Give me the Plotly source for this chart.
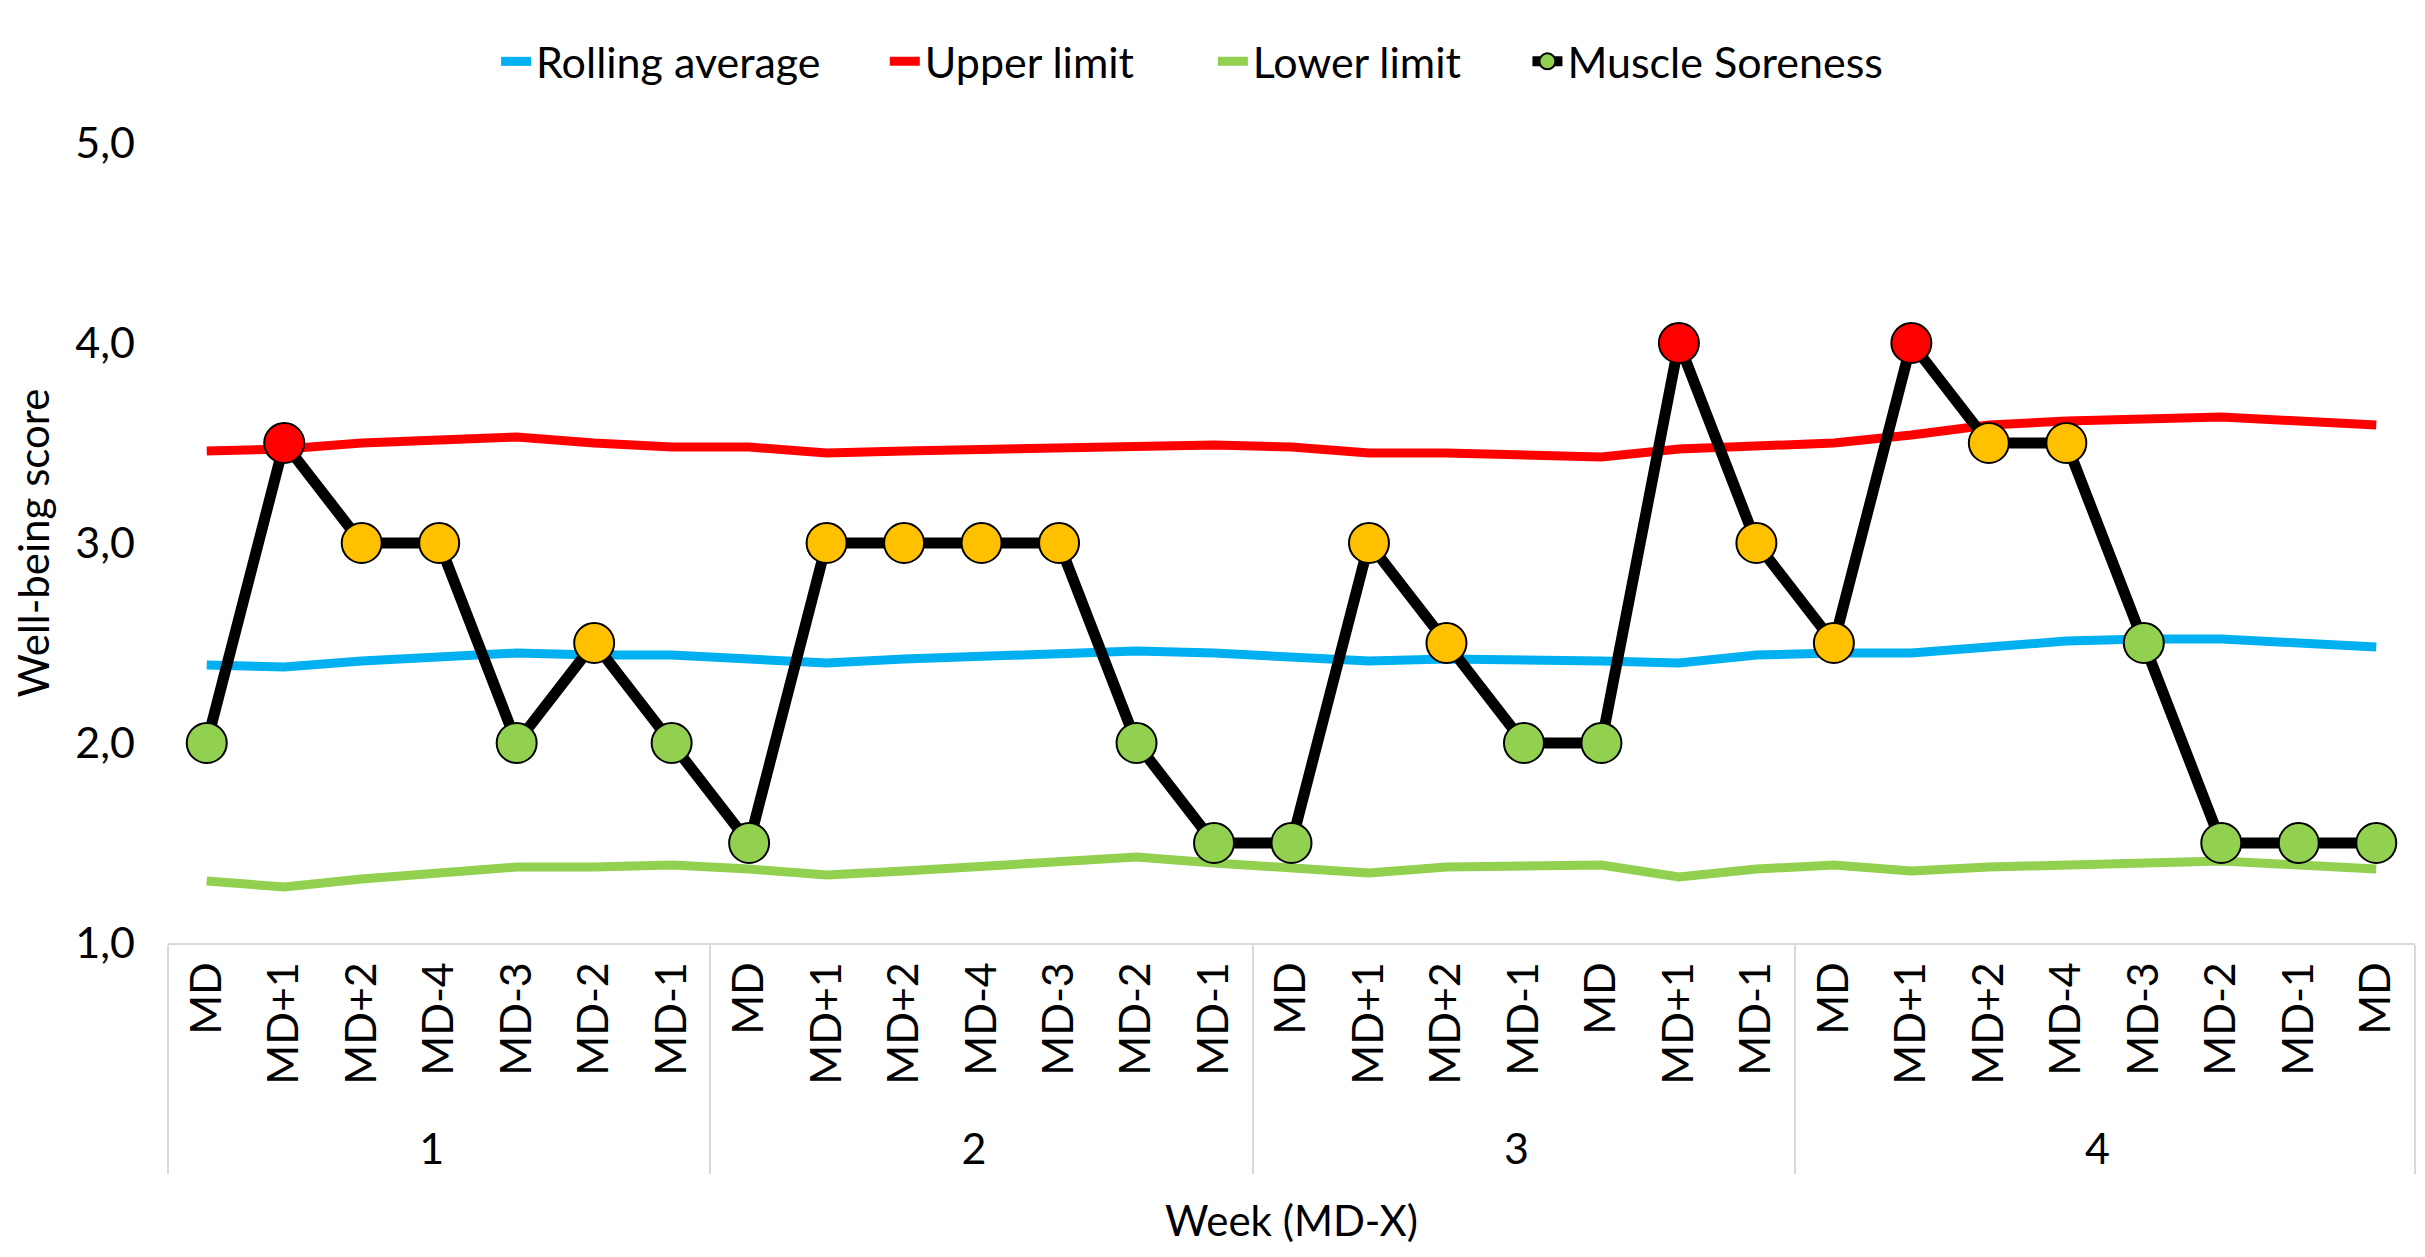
import plotly.graph_objects as go

# week number and day label for every session
weeks = ['1'] * 7 + ['2'] * 7 + ['3'] * 7 + ['4'] * 8
days = [
    'MD', 'MD+1', 'MD+2', 'MD-4', 'MD-3', 'MD-2', 'MD-1',
    'MD', 'MD+1', 'MD+2', 'MD-4', 'MD-3', 'MD-2', 'MD-1',
    'MD', 'MD+1', 'MD+2', 'MD-1', 'MD', 'MD+1', 'MD-1',
    'MD', 'MD+1', 'MD+2', 'MD-4', 'MD-3', 'MD-2', 'MD-1', 'MD',
]

soreness = [2.0, 3.5, 3.0, 3.0, 2.0, 2.5, 2.0,
            1.5, 3.0, 3.0, 3.0, 3.0, 2.0, 1.5,
            1.5, 3.0, 2.5, 2.0, 2.0, 4.0, 3.0,
            2.5, 4.0, 3.5, 3.5, 2.5, 1.5, 1.5, 1.5]

rolling_avg = [2.39, 2.38, 2.41, 2.43, 2.45, 2.44, 2.44,
               2.42, 2.40, 2.42, 2.43, 2.45, 2.46, 2.45,
               2.43, 2.41, 2.42, 2.42, 2.41, 2.40, 2.44,
               2.45, 2.45, 2.48, 2.51, 2.52, 2.52, 2.50, 2.48]

upper_limit = [3.46, 3.47, 3.50, 3.51, 3.53, 3.50, 3.48,
               3.48, 3.45, 3.46, 3.47, 3.48, 3.49, 3.49,
               3.48, 3.45, 3.45, 3.44, 3.43, 3.47, 3.49,
               3.50, 3.54, 3.59, 3.61, 3.62, 3.63, 3.61, 3.59]

lower_limit = [1.31, 1.28, 1.32, 1.35, 1.38, 1.38, 1.39,
               1.37, 1.34, 1.36, 1.38, 1.41, 1.43, 1.40,
               1.37, 1.35, 1.38, 1.39, 1.39, 1.33, 1.37,
               1.39, 1.36, 1.38, 1.39, 1.41, 1.41, 1.39, 1.37]

# traffic-light colour of each soreness point
point_colors = ['#92D050', '#FF0000', '#FFC000', '#FFC000', '#92D050', '#FFC000', '#92D050',
                '#92D050', '#FFC000', '#FFC000', '#FFC000', '#FFC000', '#92D050', '#92D050',
                '#92D050', '#FFC000', '#FFC000', '#92D050', '#92D050', '#FF0000', '#FFC000',
                '#FFC000', '#FF0000', '#FFC000', '#FFC000', '#92D050', '#92D050', '#92D050', '#92D050']

FONT = 'Lato'


def unique_labels(weeks, days):
    # same day label can repeat inside a week; pad repeats with zero-width
    # spaces so plotly keeps them as separate categories
    seen = {}
    out = []
    for w, d in zip(weeks, days):
        n = seen.get((w, d), 0)
        seen[(w, d)] = n + 1
        out.append(d + '\u200b' * n)
    return out


x = [weeks, unique_labels(weeks, days)]

fig = go.Figure()

fig.add_trace(go.Scatter(x=x, y=rolling_avg, name='Rolling average', mode='lines',
                         line=dict(color='#00B0F0', width=9), legend='legend'))
fig.add_trace(go.Scatter(x=x, y=upper_limit, name='Upper limit', mode='lines',
                         line=dict(color='#FF0000', width=9), legend='legend2'))
fig.add_trace(go.Scatter(x=x, y=lower_limit, name='Lower limit', mode='lines',
                         line=dict(color='#92D050', width=9), legend='legend3'))
fig.add_trace(go.Scatter(x=x, y=soreness, name='Muscle Soreness', mode='lines+markers',
                         line=dict(color='#000000', width=11),
                         marker=dict(size=40, color=point_colors,
                                     line=dict(color='#000000', width=2)),
                         legend='legend4'))

legend_style = dict(orientation='h', y=1.102, yanchor='middle', xanchor='left',
                    font=dict(size=43), bgcolor='rgba(0,0,0,0)')

fig.update_layout(
    width=2425, height=1257,
    paper_bgcolor='white', plot_bgcolor='white',
    margin=dict(l=160, r=18, t=135, b=322),
    separators=',.',
    font=dict(family=FONT, size=40, color='#000000'),
    showlegend=True,
    legend=dict(x=0.146, **legend_style),
    legend2=dict(x=0.319, **legend_style),
    legend3=dict(x=0.465, **legend_style),
    legend4=dict(x=0.605, **legend_style),
)

fig.update_xaxes(
    type='multicategory', range=[-0.5, len(days) - 0.5],
    showline=True, linecolor='#D9D9D9', linewidth=2,
    showgrid=False, ticks='',
    showdividers=True, dividercolor='#D9D9D9', dividerwidth=2,
    tickangle=-90, tickfont=dict(size=43),
    title=dict(text='Week (MD-X)', font=dict(size=42), standoff=34),
    automargin=False,
)
fig.update_yaxes(
    range=[1, 5], dtick=1, tickformat='.1f',
    showline=False, showgrid=False, zeroline=False, ticks='',
    tickfont=dict(size=43), ticklabelstandoff=32,
    title=dict(text='Well-being score', font=dict(size=42), standoff=20),
    automargin=False,
)

fig.write_html('out.html')
